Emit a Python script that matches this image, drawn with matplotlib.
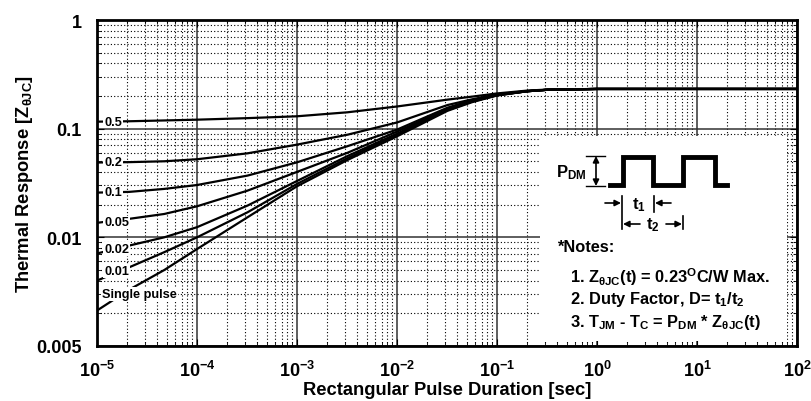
import numpy as np
import matplotlib
matplotlib.use("Agg")
import matplotlib.pyplot as plt
from matplotlib.transforms import Affine2D
from matplotlib.lines import Line2D
from matplotlib.patches import Rectangle

plt.rcParams['font.family'] = ['Liberation Sans', 'DejaVu Sans']
plt.rcParams['font.weight'] = 'bold'
plt.rcParams['axes.labelweight'] = 'bold'
plt.rcParams['mathtext.fontset'] = 'custom'
plt.rcParams['mathtext.rm'] = 'Liberation Sans'
plt.rcParams['mathtext.bf'] = 'Liberation Sans:bold'
plt.rcParams['mathtext.it'] = 'Liberation Sans:bold'
plt.rcParams['mathtext.default'] = 'bf'

# pulse duration (s)
t = [1e-5, 2.1e-5, 4.7e-5, 1e-4, 3.2e-4, 1e-3, 3.2e-3, 1e-2, 3.2e-2, 5.6e-2,
     1e-1, 0.2, 0.32, 1, 10, 100]
# normalized thermal response for each duty factor
z_05 = [0.116, 0.117, 0.119, 0.121, 0.125, 0.130, 0.1415, 0.160, 0.185, 0.197,
        0.211, 0.224, 0.229, 0.232, 0.232, 0.232]
z_02 = [0.0488, 0.0492, 0.0501, 0.0523, 0.0593, 0.0713, 0.088, 0.114, 0.165, 0.186,
        0.207, 0.222, 0.228, 0.232, 0.232, 0.232]
z_01 = [0.0258, 0.0262, 0.0279, 0.0303, 0.0370, 0.049, 0.069, 0.098, 0.156, 0.183,
        0.205, 0.221, 0.228, 0.232, 0.232, 0.232]
z_005 = [0.0136, 0.0148, 0.0164, 0.0193, 0.0269, 0.040, 0.060, 0.094, 0.152, 0.180,
         0.204, 0.221, 0.228, 0.232, 0.232, 0.232]
z_002 = [0.0071, 0.0084, 0.0100, 0.0124, 0.0196, 0.033, 0.056, 0.090, 0.150, 0.178,
         0.203, 0.221, 0.228, 0.232, 0.232, 0.232]
z_001 = [0.0040, 0.0053, 0.0073, 0.0100, 0.0170, 0.031, 0.0535, 0.088, 0.148, 0.177,
         0.203, 0.221, 0.228, 0.232, 0.232, 0.232]
z_single = [0.00212, 0.0033, 0.0050, 0.0078, 0.0153, 0.0295, 0.0515, 0.085, 0.146, 0.175,
            0.202, 0.221, 0.228, 0.232, 0.232, 0.232]

curves = [z_05, z_02, z_01, z_005, z_002, z_001, z_single]
labels = ['0.5', '0.2', '0.1', '0.05', '0.02', '0.01', 'Single pulse']
label_x = [1.445e-5, 1.445e-5, 1.445e-5, 1.567e-5, 1.567e-5, 1.567e-5, 2.66e-5]
label_y = [0.116, 0.0491, 0.026, 0.01377, 0.00782, 0.00488, 0.00301]

yticks = [1e-3, 1e-2, 1e-1, 1]
ytick_labels = ['0.005', '0.01', '0.1', '1']
xticks = [1e-5, 1e-4, 1e-3, 1e-2, 1e-1, 1, 10, 100]
xtick_labels = [r'$10^{-5}$', r'$10^{-4}$', r'$10^{-3}$', r'$10^{-2}$',
                r'$10^{-1}$', r'$10^{0}$', r'$10^{1}$', r'$10^{2}$']

W, H = 811, 402
fig = plt.figure(figsize=(W / 100, H / 100), dpi=100)
ax = fig.add_axes([97 / W, 1 - 347 / H, 700 / W, 326 / H])
px = Affine2D().scale(1 / W, -1 / H).translate(0, 1) + fig.transFigure

ax.set_xscale('log')
ax.set_yscale('log')
ax.set_xlim(1e-5, 100)
ax.set_ylim(1e-3, 1)
ax.set_axisbelow(True)
ax.grid(True, which='major', color='#333333', lw=1.1, ls='-')
ax.grid(True, which='minor', color='black', lw=0.8, ls=(0, (1, 2)))

for z in curves:
    ax.plot(t, z, color='black', lw=1.6, zorder=3)
for lab, lx, ly in zip(labels, label_x, label_y):
    ax.text(lx, ly, lab, fontsize=9.2, ha='center', va='center', zorder=4,
            bbox=dict(facecolor='white', edgecolor='none', pad=0.5))

ax.set_yticks(yticks)
ax.set_yticklabels(ytick_labels)
ax.set_xticks(xticks)
ax.set_xticklabels(xtick_labels)
ax.yaxis.set_minor_formatter(matplotlib.ticker.NullFormatter())
ax.xaxis.set_minor_formatter(matplotlib.ticker.NullFormatter())
ax.tick_params(which='both', direction='in', top=True, right=True)
ax.tick_params(which='major', length=5, labelsize=13)
ax.tick_params(axis='y', which='major', pad=11)
ax.tick_params(axis='x', which='major', pad=10)
ax.tick_params(which='minor', length=3)
for s in ax.spines.values():
    s.set_linewidth(2)

ax.set_xlabel('Rectangular Pulse Duration [sec]', fontsize=13.2, labelpad=1)
ax.set_ylabel(r'Thermal Response [Z$_{θJC}$]', fontsize=13.2, labelpad=1)

# notes box
ax.add_patch(Rectangle((540, 137), 247, 205, transform=px, facecolor='white',
                       edgecolor='none', zorder=1))

fs = 11.8
fig.text(557, 248, '*Notes:', transform=px, fontsize=fs, va='center')
fig.text(570, 277, r'1. Z$_{θJC}$(t) = 0.23$^{O}$C/W Max.', transform=px, fontsize=fs, va='center')
fig.text(570, 300, r'2. Duty Factor, D= t$_1$/t$_2$', transform=px, fontsize=fs, va='center')
fig.text(570, 323, r'3. T$_{JM}$ - T$_C$ = P$_{DM}$ * Z$_{θJC}$(t)', transform=px, fontsize=fs, va='center')

# pulse diagram
fig.text(556, 173, r'$\mathrm{P_{DM}}$', transform=px, fontsize=12, va='center')
fig.add_artist(Line2D([610, 623, 623, 653, 653, 683, 683, 715, 715, 727],
                      [186, 186, 158, 158, 186, 186, 158, 158, 186, 186],
                      transform=px, color='black', lw=3.5, solid_joinstyle='miter'))
for yy in (157, 187):
    fig.add_artist(Line2D([586, 605], [yy, yy], transform=px, color='black', lw=1))
ax.annotate('', xy=(596, 157), xytext=(596, 187), xycoords=px, textcoords=px,
            arrowprops=dict(arrowstyle='<|-|>', color='black', lw=1.2, mutation_scale=9,
                            shrinkA=0, shrinkB=0), annotation_clip=False)
fig.add_artist(Line2D([622, 622], [197, 230], transform=px, color='black', lw=1.2))
fig.add_artist(Line2D([654, 654], [197, 213], transform=px, color='black', lw=1.2))
fig.add_artist(Line2D([683, 683], [217, 230], transform=px, color='black', lw=1.2))
arrows = [((605, 204), (621, 204)), ((671, 204), (655, 204)),
          ((640, 225), (623, 225)), ((666, 225), (682, 225))]
for a, b in arrows:
    ax.annotate('', xy=b, xytext=a, xycoords=px, textcoords=px,
                arrowprops=dict(arrowstyle='-|>', color='black', lw=1.2, mutation_scale=9,
                                shrinkA=0, shrinkB=0), annotation_clip=False)
fig.text(639, 205, r'$\mathrm{t_1}$', transform=px, fontsize=12, ha='center', va='center')
fig.text(653, 225, r'$\mathrm{t_2}$', transform=px, fontsize=12, ha='center', va='center')

fig.savefig('out.png', dpi=100)
